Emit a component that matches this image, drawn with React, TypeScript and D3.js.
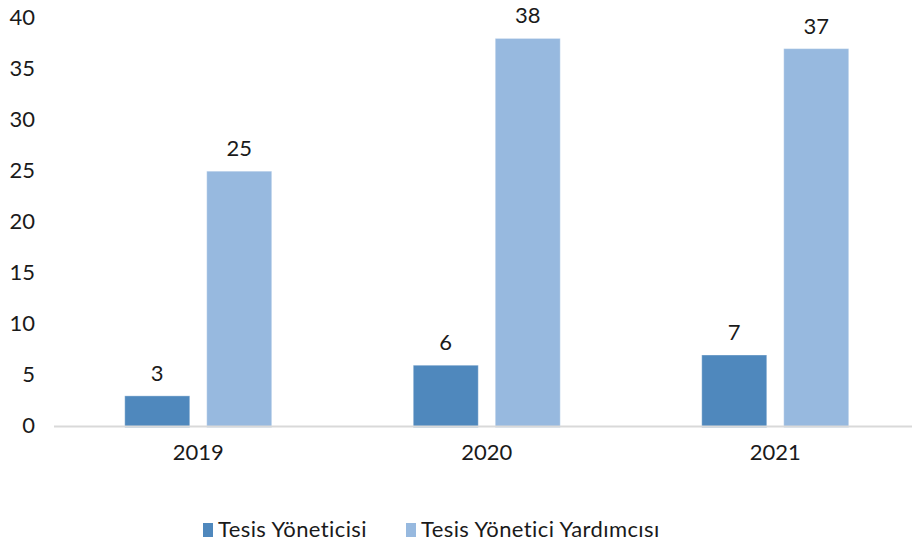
import React from "react";
import * as d3 from "d3";

const years = ["2019", "2020", "2021"];
const seriesNames = ["Tesis Yöneticisi", "Tesis Yönetici Yardımcısı"];
const yoneticiValues = [3, 6, 7];
const yardimciValues = [25, 38, 37];
const yTicks = [0, 5, 10, 15, 20, 25, 30, 35, 40];

const colors = ["#4F88BD", "#97B9DF"];
const font = "Lato, 'Open Sans', sans-serif";

const App = () => {
  const width = 912;
  const height = 547;

  // scales
  const x0 = d3
    .scaleBand<string>()
    .domain(years)
    .range([54, 919.5])
    .paddingInner(0.4905)
    .paddingOuter(0.4905 / 2);
  const x1 = d3
    .scaleBand<string>()
    .domain(seriesNames)
    .range([0, x0.bandwidth()])
    .paddingInner(0.207);
  const y = d3.scaleLinear().domain([0, 40]).range([426.5, 18]);

  const seriesValues = [yoneticiValues, yardimciValues];

  return (
    <svg
      width={width}
      height={height}
      style={{ position: "absolute", left: 0, top: 0, background: "#fff" }}
      fontFamily={font}
    >
      {/* y tick labels */}
      {yTicks.map((t) => (
        <text
          key={t}
          x={35}
          y={y(t) - 1}
          dy="0.35em"
          textAnchor="end"
          fontSize={22}
          fill="#1a1a1a"
        >
          {t}
        </text>
      ))}

      {/* bars + labels */}
      {years.map((yr, i) => (
        <g key={yr} transform={`translate(${x0(yr)},0)`}>
          {seriesNames.map((s, j) => {
            const v = seriesValues[j][i];
            const bx = x1(s) as number;
            return (
              <g key={s}>
                <rect
                  x={bx}
                  y={y(v)}
                  width={x1.bandwidth()}
                  height={y(0) - y(v) + 1}
                  fill={colors[j]}
                  stroke="#ffffff"
                  strokeOpacity={0.35}
                  strokeWidth={1}
                />
                <text
                  x={bx + x1.bandwidth() / 2}
                  y={y(v) - 15}
                  textAnchor="middle"
                  fontSize={22}
                  fill="#1a1a1a"
                >
                  {v}
                </text>
              </g>
            );
          })}
        </g>
      ))}

      {/* baseline */}
      <line x1={54} x2={width} y1={y(0)} y2={y(0)} stroke="#d9d9d9" strokeWidth={2} />

      {/* x labels */}
      {years.map((yr) => (
        <text
          key={yr}
          x={(x0(yr) as number) + x0.bandwidth() / 2}
          y={460}
          textAnchor="middle"
          fontSize={22}
          fill="#1a1a1a"
        >
          {yr}
        </text>
      ))}

      {/* legend */}
      {seriesNames.map((s, j) => {
        const lx = [203, 406][j];
        return (
          <g key={s}>
            <rect x={lx} y={523} width={10} height={14} fill={colors[j]} />
            <text x={lx + 15} y={537} fontSize={22} letterSpacing={0.4} fill="#1a1a1a">
              {s}
            </text>
          </g>
        );
      })}
    </svg>
  );
};

export default App;
